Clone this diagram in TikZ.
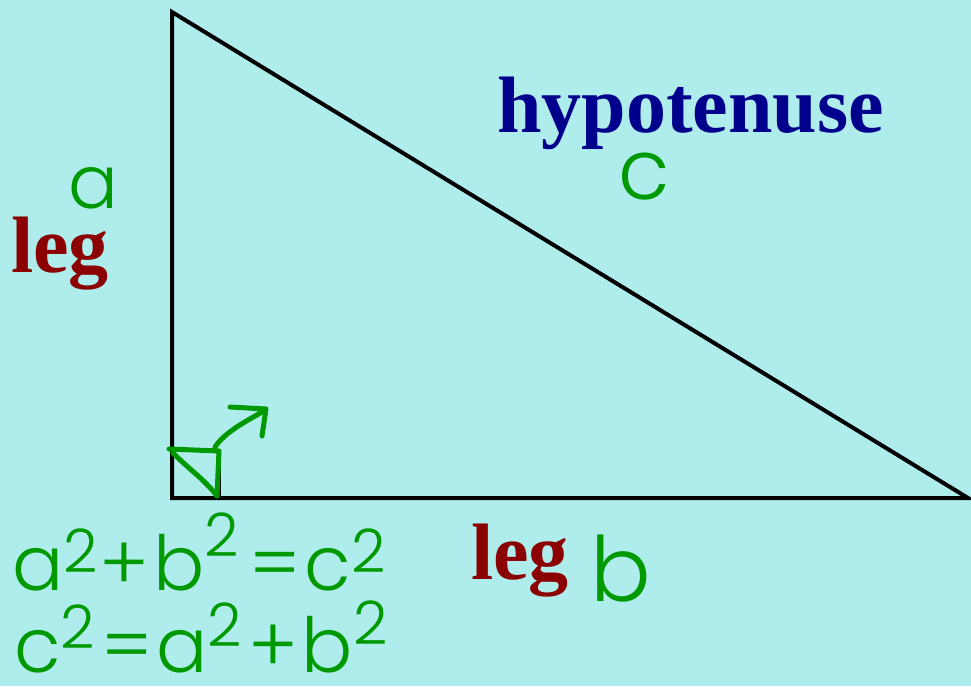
\documentclass[tikz,border=0pt]{standalone}
\usepackage{fontspec}
\setmainfont{Liberation Serif}
\newfontfamily\hand{Poppins Light}
\definecolor{bgc}{RGB}{175,237,237}
\definecolor{hypc}{RGB}{0,0,140}
\definecolor{legc}{RGB}{139,0,0}
\definecolor{grn}{RGB}{0,153,0}
\newcommand{\hsz}[1]{\fontsize{#1}{#1}\selectfont}
\newcommand{\sqr}[1]{\raisebox{#1}{\hsz{60}2}}
\tikzset{
  side/.style={line width=4pt, black},
  lbl/.style={font=\bfseries\hsz{80}, inner sep=0pt, anchor=base west},
  hw/.style={font=\hand, text=grn, inner sep=0pt, anchor=base west},
  hwline/.style={grn, line width=5pt, line cap=round, line join=round}
}
\begin{document}
\begin{tikzpicture}[x=1pt,y=-1pt]
\fill[bgc] (0,0) rectangle (971,686);
\useasboundingbox (0,0) rectangle (971,686);
% triangle
\coordinate (A) at (172,12);
\coordinate (C) at (172,498);
\coordinate (B) at (968,498);
\draw[side, line join=miter] (A) -- (C) -- (B) -- cycle;
% right angle marker (black)
\coordinate (R1) at (172,450);
\coordinate (R2) at (220,450);
\coordinate (R3) at (220,498);
\draw[black, line width=2pt] (R1) -- (R2) -- (R3);
% green marker strokes
\coordinate (G1) at (169,449);
\coordinate (G2) at (219,451);
\coordinate (G3) at (217,496);
\coordinate (G4) at (173,453);
\draw[hwline] (G1) -- (G2) -- (G3);
\draw[hwline] (G4) .. controls (190,470) and (205,480) .. (G3);
\coordinate (P0) at (215,447);
\coordinate (P1) at (262,412);
\coordinate (H1) at (230,407);
\coordinate (H2) at (266,409);
\coordinate (H3) at (262,436);
\draw[hwline] (P0) .. controls (225,432) and (245,422) .. (P1);
\draw[hwline] (H1) -- (H2) -- (H3);
% labels
\node[lbl, text=hypc] (hyp) at (497,132) {hypotenuse};
\node[lbl, text=legc] (legA) at (11,272) {leg};
\node[lbl, text=legc] (legB) at (471,579) {leg};
% handwritten letters
\node[hw, font=\hand\hsz{74}] (la) at (68,208) {a};
\node[hw, font=\hand\hsz{84}] (lc) at (618,199) {c};
\node[hw, font=\hand\hsz{90}] (lb) at (590,601) {b};
% equations
\node[hw, font=\hand\hsz{76}] (eq1) at (12,590) {a\sqr{18pt}\hspace{2pt}+\hspace{4pt}b\sqr{34pt}\hspace{10pt}=\hspace{4pt}c\sqr{18pt}};
\node[hw, font=\hand\hsz{76}] (eq2) at (14,672) {c\sqr{24pt}\hspace{6pt}=\hspace{4pt}a\sqr{26pt}\hspace{6pt}+\hspace{4pt}b\sqr{28pt}};
\end{tikzpicture}
\end{document}
